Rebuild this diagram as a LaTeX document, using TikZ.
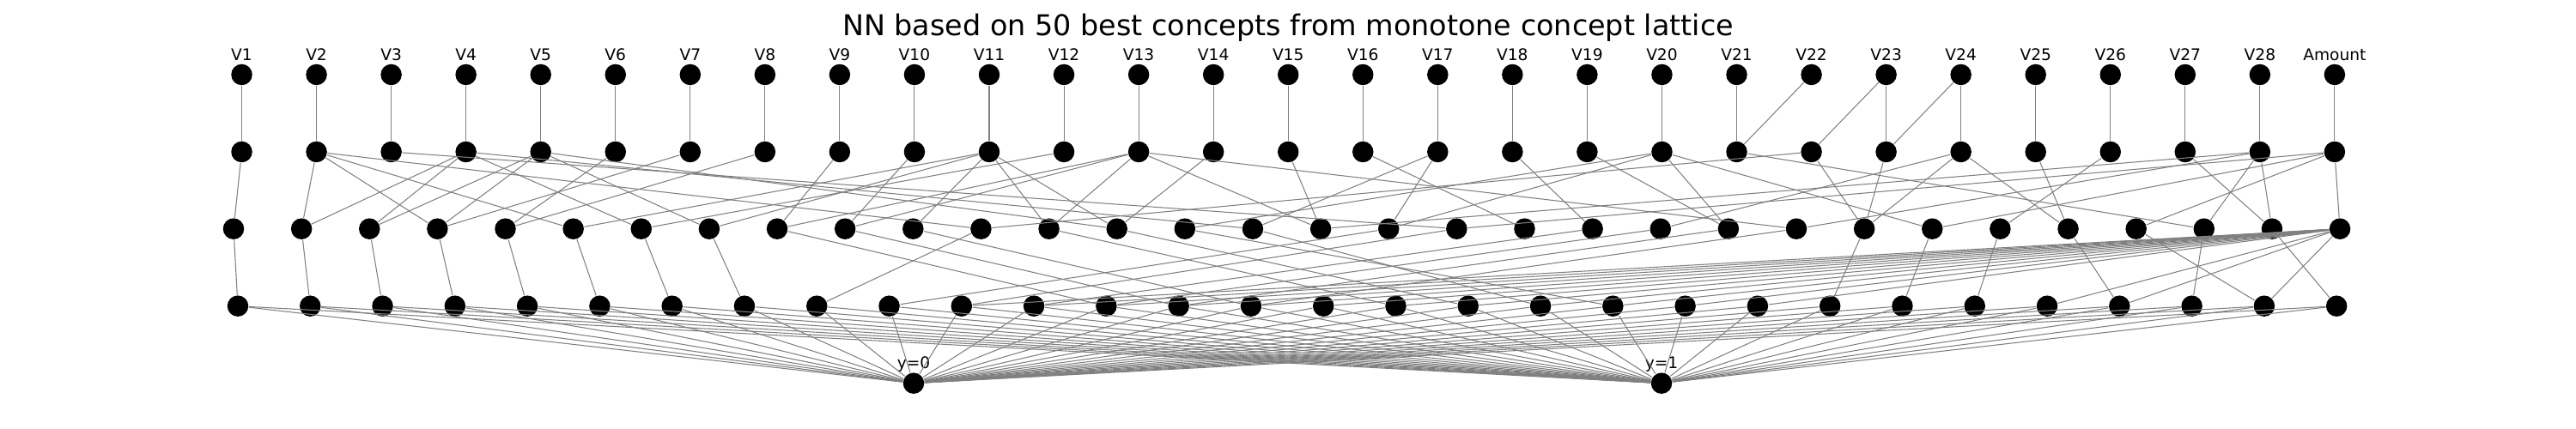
\documentclass[tikz,border=0pt]{standalone}
\usepackage{fontspec}
\setmainfont{DejaVu Sans}
\begin{document}
\begin{tikzpicture}
\tikzset{neuron/.style={circle,fill=black,inner sep=0pt,minimum size=2.45mm},
  conn/.style={draw=gray,line width=0.3pt},
  lbl/.style={inner sep=0pt,font=\fontsize{5.3}{6}\selectfont}}
\useasboundingbox (0,0) rectangle (30,5);
\node[anchor=base,inner sep=0pt,font=\fontsize{9.5}{11}\selectfont] (title) at (15,4.583) {NN based on 50 best concepts from monotone concept lattice};
% input layer and first layer
\foreach \i in {0,...,28} {
  \node[neuron] (in\i) at (2.815+0.8705*\i,4.13) {};
  \node[neuron] (p\i) at (2.815+0.8705*\i,3.23) {};
}
\foreach \i in {0,...,27} {
  \pgfmathtruncatemacro{\v}{\i+1}
  \node[lbl,anchor=base] (lab\i) at (2.815+0.8705*\i,4.29) {V\v};
}
\node[lbl,anchor=base] (lab28) at (2.815+0.8705*28,4.29) {Amount};
% hidden layers
\foreach \j in {0,...,31}
  \node[neuron] (q\j) at (2.72+0.7913*\j,2.333) {};
\foreach \k in {0,...,29}
  \node[neuron] (r\k) at (2.77+0.8428*\k,1.433) {};
% outputs
\node[neuron] (out0) at (10.64,0.533) {};
\node[neuron] (out1) at (19.35,0.533) {};
\node[lbl,anchor=base] (lab0) at (10.64,0.70) {y=0};
\node[lbl,anchor=base] (lab1) at (19.35,0.70) {y=1};
% connections
\foreach \a/\b in {0/0,1/1,2/2,3/3,4/4,5/5,6/6,7/7,8/8,9/9,10/10,11/11,12/12,13/13,14/14,
  15/15,16/16,17/17,18/18,19/19,20/20,22/22,23/23,24/24,25/25,26/26,27/27,28/28,
  21/20,22/21,23/22}
  \draw[conn] (in\a) -- (p\b);
\foreach \a/\b in {0/0,1/1,1/3,1/5,1/11,2/18,3/1,3/2,3/6,3/15,4/2,4/3,4/7,4/13,5/4,6/3,7/4,
  8/8,9/9,10/10,10/12,10/13,10/5,10/7,11/6,12/12,12/16,12/8,12/9,12/23,13/13,14/16,15/19,
  16/15,16/17,17/20,18/22,19/22,19/25,19/14,19/17,20/29,21/24,21/11,22/24,23/21,23/24,23/27,24/27,
  25/26,26/30,27/30,27/29,27/23,27/16,28/31,28/25,28/28,28/18}
  \draw[conn] (p\a) -- (q\b);
\foreach \a/\b in {0/0,1/1,2/2,3/3,4/4,5/5,6/6,7/7,11/8,8/12,9/13,10/14,12/16,13/17,14/19,15/18,
  17/9,18/10,20/11,21/12,22/13,23/14,
  24/22,25/23,26/24,27/26,28/28,29/27,30/29,
  31/28,31/26,31/25,31/10,31/11,31/12,31/13,31/14,31/15,31/16,31/17,31/18,31/19,31/20,31/21}
  \draw[conn] (q\a) -- (r\b);
\foreach \k in {0,...,29} {
  \draw[conn] (r\k) -- (out0);
  \draw[conn] (r\k) -- (out1);
}
\end{tikzpicture}
\end{document}
